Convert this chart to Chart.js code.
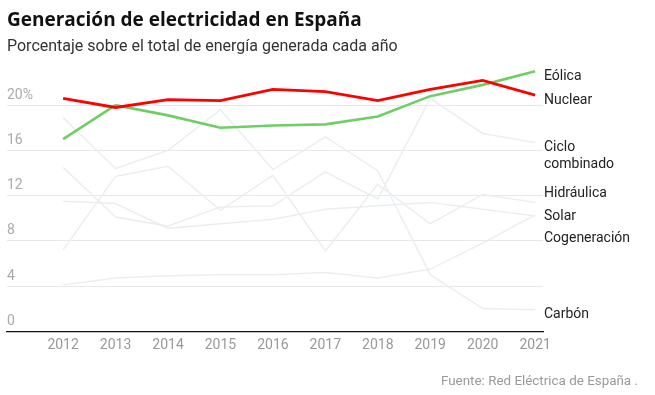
<!DOCTYPE html>
<html>
<head>
<meta charset="utf-8">
<script src="https://cdn.jsdelivr.net/npm/chart.js@4.4.0/dist/chart.umd.min.js"></script>
<style>
  body { margin: 0; background: #fff; font-family: Roboto, "Liberation Sans", sans-serif; }
  #wrap { position: relative; width: 655px; height: 395px; }
  #title { position: absolute; left: 7px; top: 6px; margin: 0; font-family: "Open Sans", Roboto, sans-serif; font-size: 19px; font-weight: 700; color: #111; }
  #subtitle { position: absolute; left: 7px; top: 36px; margin: 0; font-size: 16px; color: #333; }
  #source { position: absolute; right: 17px; top: 373px; font-size: 13.4px; color: #999; }
  #chart { position: absolute; left: 0; top: 0; }
</style>
</head>
<body>
<div id="wrap">
  <canvas id="chart" width="655" height="395"></canvas>
  <h1 id="title">Generación de electricidad en España</h1>
  <p id="subtitle">Porcentaje sobre el total de energía generada cada año</p>
  <div id="source">Fuente: Red Eléctrica de España .</div>
</div>
<script>
var years = [2012, 2013, 2014, 2015, 2016, 2017, 2018, 2019, 2020, 2021];
var yTicks = [0, 4, 8, 12, 16, 20];

var nuclear = [20.6, 19.8, 20.5, 20.4, 21.4, 21.2, 20.4, 21.4, 22.2, 20.9];
var eolica = [17.0, 20.0, 19.1, 18.0, 18.2, 18.3, 19.0, 20.8, 21.8, 23.0];
var cicloCombinado = [14.5, 10.1, 9.3, 11.0, 11.1, 14.1, 11.7, 20.6, 17.5, 16.7];
var carbon = [18.9, 14.4, 16.0, 19.6, 14.3, 17.2, 14.2, 5.0, 2.0, 1.9];
var hidraulica = [7.2, 13.7, 14.6, 10.7, 13.8, 7.1, 13.0, 9.5, 12.1, 11.4];
var solar = [4.1, 4.7, 4.9, 5.0, 5.0, 5.2, 4.7, 5.5, 7.8, 10.3];
var cogeneracion = [11.5, 11.3, 9.1, 9.5, 9.9, 10.8, 11.1, 11.4, 10.8, 10.2];

var toPoints = function (values) {
    return values.map(function (v, i) { return {x: years[i], y: v}; });
};

var serie = function (label, values, color, width, order) {
    return {
        label: label,
        data: toPoints(values),
        borderColor: color,
        borderWidth: width,
        pointRadius: 0,
        tension: 0,
        order: order
    };
};

// etiquetas a la derecha, repartidas para que no se pisen
var endLabels = {
    id: 'endLabels',
    afterDatasetsDraw: function (chart) {
        var ctx = chart.ctx;
        var slot = 22.5, lineH = 17;
        var items = chart.data.datasets.map(function (ds, i) {
            var meta = chart.getDatasetMeta(i);
            var last = meta.data[meta.data.length - 1];
            var lines = ds.label.split('\n');
            return {lines: lines, top: last.y + 5 - slot / 2, h: slot + (lines.length - 1) * lineH};
        }).sort(function (a, b) { return a.top - b.top; });

        var blocks = [];
        items.forEach(function (it) {
            blocks.push({items: [it], top: it.top, h: it.h});
            while (blocks.length > 1) {
                var b = blocks[blocks.length - 1], a = blocks[blocks.length - 2];
                if (a.top + a.h <= b.top) break;
                var merged = a.items.concat(b.items);
                var off = 0, sum = 0;
                merged.forEach(function (m) { sum += m.top - off; off += m.h; });
                blocks.splice(blocks.length - 2, 2, {items: merged, top: sum / merged.length, h: off});
            }
        });

        ctx.save();
        ctx.font = '14px Roboto, "Liberation Sans", sans-serif';
        ctx.fillStyle = '#222';
        ctx.textAlign = 'left';
        ctx.textBaseline = 'middle';
        var x = chart.chartArea.right + 1;
        blocks.forEach(function (b) {
            var y = b.top;
            b.items.forEach(function (it) {
                it.lines.forEach(function (line, k) {
                    ctx.fillText(line, x, y + slot / 2 + k * lineH);
                });
                y += it.h;
            });
        });
        ctx.restore();
    }
};

var gris = '#ebeef1';

new Chart(document.getElementById('chart'), {
    type: 'line',
    data: {
        datasets: [
            serie('Eólica', eolica, '#6fcf66', 2.6, 1),
            serie('Nuclear', nuclear, '#ff0000', 2.8, 0),
            serie('Ciclo\ncombinado', cicloCombinado, gris, 1.5, 2),
            serie('Hidráulica', hidraulica, gris, 1.5, 2),
            serie('Solar', solar, gris, 1.5, 2),
            serie('Cogeneración', cogeneracion, gris, 1.5, 2),
            serie('Carbón', carbon, gris, 1.5, 2)
        ]
    },
    options: {
        responsive: false,
        animation: false,
        layout: {padding: {left: 7, right: 112, top: 60, bottom: 35}},
        plugins: {legend: {display: false}, tooltip: {enabled: false}},
        scales: {
            x: {
                type: 'linear',
                min: 2010.93,
                max: 2021.15,
                afterBuildTicks: function (s) { s.ticks = years.map(function (v) { return {value: v}; }); },
                grid: {display: false, drawTicks: false},
                border: {display: true, color: '#111', width: 1.2},
                ticks: {
                    color: '#999',
                    padding: 6,
                    maxRotation: 0,
                    font: {family: 'Roboto', size: 14},
                    callback: function (v) { return String(v); }
                }
            },
            y: {
                min: 0,
                max: 24,
                afterBuildTicks: function (s) { s.ticks = yTicks.map(function (v) { return {value: v}; }); },
                grid: {
                    drawTicks: false,
                    color: function (c) { return c.tick && c.tick.value === 0 ? 'rgba(0,0,0,0)' : '#e8e8e8'; }
                },
                border: {display: false},
                ticks: {
                    mirror: true,
                    padding: 0,
                    labelOffset: -10,
                    color: '#aaa',
                    font: {family: 'Roboto', size: 14},
                    callback: function (v) { return v === 20 ? '20%' : String(v); }
                }
            }
        }
    },
    plugins: [endLabels]
});
</script>
</body>
</html>
